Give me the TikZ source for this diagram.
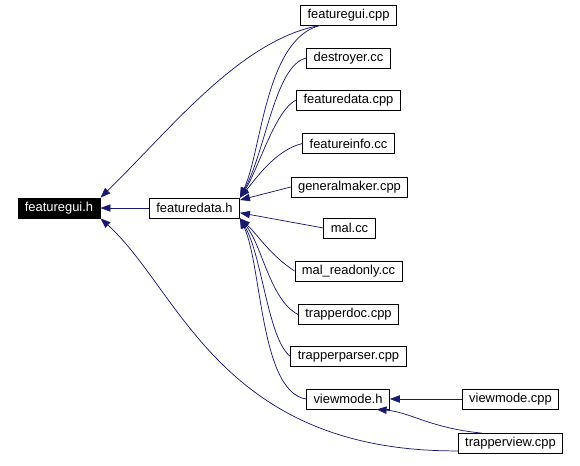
\documentclass[tikz,border=0pt]{standalone}
\usepackage{fontspec}
\setmainfont{Liberation Sans}
\usetikzlibrary{arrows.meta}
\definecolor{edgeblue}{HTML}{191970}

\begin{document}
\begin{tikzpicture}[x=0.75pt, y=-0.75pt,
  file/.style={draw, rectangle, line width=0.6pt, inner xsep=5.2pt, inner ysep=0pt,
    minimum height=15pt, font=\fontsize{9.7}{11}\selectfont},
  here/.style={file, fill=black, text=white},
  incl/.style={draw=edgeblue, line width=0.55pt, -{Triangle[length=7.5pt,width=5.5pt]}}]
\useasboundingbox (0,0) rectangle (580,465);
\node[here](fguih) at (59,208){featuregui.h};
\node[file](fdatah) at (194.5,208){featuredata.h};
\node[file](fguicpp) at (348.5,15){featuregui.cpp};
\node[file](destroyer) at (348.5,58){destroyer.cc};
\node[file](fdatacpp) at (348.5,100){featuredata.cpp};
\node[file](finfo) at (348.5,143.5){featureinfo.cc};
\node[file](gmaker) at (349.5,187){generalmaker.cpp};
\node[file](mal) at (349.5,228){mal.cc};
\node[file](malro) at (348.5,271){mal\_readonly.cc};
\node[file](tdoc) at (348.5,314.5){trapperdoc.cpp};
\node[file](tparser) at (348.5,356.5){trapperparser.cpp};
\node[file](vmodeh) at (348,399){viewmode.h};
\node[file](vmodecpp) at (510.5,399){viewmode.cpp};
\node[file](tview) at (510.5,443.5){trapperview.cpp};

% into featuregui.h
\draw[incl] (fdatah) -- (fguih);
\draw[incl] (fguicpp.200) .. controls (240,40) and (170,130) .. (fguih.north east);
\draw[incl] (tview.188) .. controls (220,452) and (180,290) .. (fguih.south east);
% into featuredata.h
\draw[incl] (fguicpp.200) .. controls (265,40) and (262,150) .. (fdatah.north east);
\draw[incl] (destroyer.west) .. controls (275,65) and (266,150) .. (fdatah.north east);
\draw[incl] (fdatacpp.west) .. controls (275,110) and (258,170) .. (fdatah.north east);
\draw[incl] (finfo.west) .. controls (275,150) and (255,180) .. (fdatah.north east);
\draw[incl] (gmaker.west) -- (fdatah.10);
\draw[incl] (mal.west) -- (fdatah.-6);
\draw[incl] (malro.west) .. controls (270,255) and (258,235) .. (fdatah.south east);
\draw[incl] (tdoc.west) .. controls (270,300) and (262,245) .. (fdatah.south east);
\draw[incl] (tparser.west) .. controls (268,340) and (262,255) .. (fdatah.south east);
\draw[incl] (vmodeh.west) .. controls (260,392) and (262,265) .. (fdatah.south east);
% into viewmode.h
\draw[incl] (vmodecpp) -- (vmodeh);
\draw[incl] (tview.160) .. controls (430,428) and (410,412) .. (vmodeh.-20);
\end{tikzpicture}
\end{document}
